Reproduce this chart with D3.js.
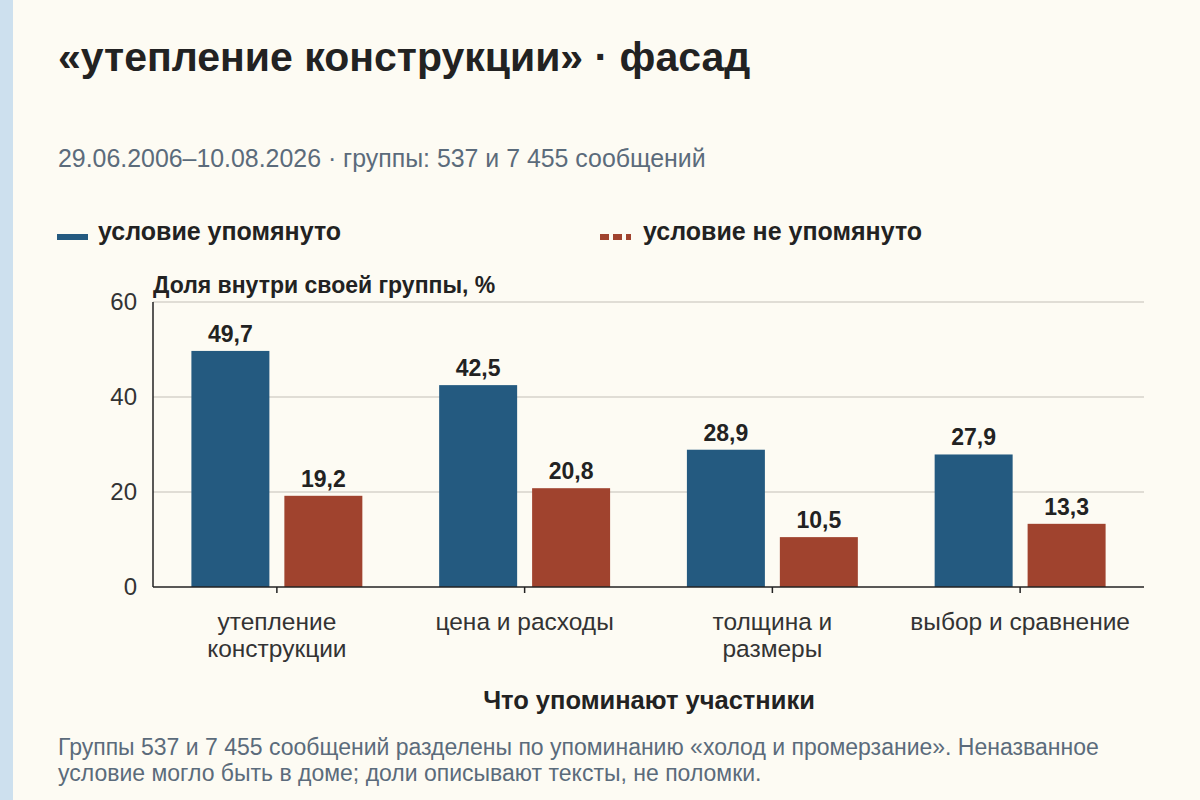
<!DOCTYPE html>
<html>
<head>
<meta charset="utf-8">
<script src="https://cdn.jsdelivr.net/npm/d3@7"></script>
<style>
  html, body { margin: 0; padding: 0; background: #fdfbf3; }
  svg { display: block; font-family: "Liberation Sans", Arial, sans-serif; }
</style>
</head>
<body>
<script>
// chart data
const categories = [["утепление", "конструкции"], ["цена и расходы"], ["толщина и", "размеры"], ["выбор и сравнение"]];
const seriesNames = ["условие упомянуто", "условие не упомянуто"];
const mentioned = [49.7, 42.5, 28.9, 27.9];
const notMentioned = [19.2, 20.8, 10.5, 13.3];
const yTicks = [0, 20, 40, 60];

const colors = ["#245a80", "#a0432e"];
const width = 1200, height = 800;
const margin = {top: 302, right: 56, bottom: 213, left: 153};

const svg = d3.select("body").append("svg")
  .attr("width", width)
  .attr("height", height);

svg.append("rect").attr("width", width).attr("height", height).attr("fill", "#fdfbf3");
svg.append("rect").attr("width", 13).attr("height", height).attr("fill", "#cde0ee");

// title, subtitle
svg.append("text").attr("x", 58).attr("y", 71)
  .attr("font-size", 41).attr("font-weight", "bold").attr("fill", "#222")
  .text("«утепление конструкции» · фасад");
svg.append("text").attr("x", 58).attr("y", 167)
  .attr("font-size", 24.9).attr("fill", "#5b6b7b")
  .text("29.06.2006–10.08.2026 · группы: 537 и 7 455 сообщений");

// legend
const legend = svg.append("g");
legend.append("line").attr("x1", 57).attr("x2", 88).attr("y1", 237).attr("y2", 237)
  .attr("stroke", colors[0]).attr("stroke-width", 6);
legend.append("text").attr("x", 98).attr("y", 240).attr("font-size", 25).attr("font-weight", "bold")
  .attr("fill", "#222").text(seriesNames[0]);
legend.append("line").attr("x1", 600).attr("x2", 631).attr("y1", 237).attr("y2", 237)
  .attr("stroke", colors[1]).attr("stroke-width", 6).attr("stroke-dasharray", "9,4");
legend.append("text").attr("x", 643).attr("y", 240).attr("font-size", 25).attr("font-weight", "bold")
  .attr("fill", "#222").text(seriesNames[1]);

// scales
const x0 = d3.scaleBand()
  .domain(d3.range(categories.length))
  .range([margin.left, width - margin.right])
  .paddingInner(0.31).paddingOuter(0.155);
const x1 = d3.scaleBand()
  .domain([0, 1])
  .range([0, x0.bandwidth()])
  .paddingInner(0.161);
const y = d3.scaleLinear()
  .domain([0, 60])
  .range([height - margin.bottom, margin.top]);

// gridlines
svg.append("g").selectAll("line")
  .data(yTicks.filter(d => d > 0))
  .join("line")
  .attr("x1", margin.left).attr("x2", width - margin.right)
  .attr("y1", d => y(d)).attr("y2", d => y(d))
  .attr("stroke", "#d6d3cb").attr("stroke-width", 1.5);

// y tick labels
svg.append("g").selectAll("text")
  .data(yTicks)
  .join("text")
  .attr("x", 137).attr("y", d => y(d) + 8)
  .attr("text-anchor", "end").attr("font-size", 24).attr("fill", "#333")
  .text(d => d);

svg.append("text").attr("x", 153).attr("y", 293)
  .attr("font-size", 23).attr("font-weight", "bold").attr("fill", "#222")
  .text("Доля внутри своей группы, %");

// bars
const rows = categories.map((c, i) => ({i, values: [mentioned[i], notMentioned[i]]}));
const groups = svg.append("g").selectAll("g")
  .data(rows)
  .join("g")
  .attr("transform", d => "translate(" + x0(d.i) + ",0)");

groups.selectAll("rect")
  .data(d => d.values.map((v, k) => ({k, v})))
  .join("rect")
  .attr("x", d => x1(d.k))
  .attr("width", x1.bandwidth())
  .attr("y", d => y(d.v))
  .attr("height", d => y(0) - y(d.v))
  .attr("fill", d => colors[d.k]);

groups.selectAll("text")
  .data(d => d.values.map((v, k) => ({k, v})))
  .join("text")
  .attr("x", d => x1(d.k) + x1.bandwidth() / 2)
  .attr("y", d => y(d.v) - 9)
  .attr("text-anchor", "middle").attr("font-size", 23).attr("font-weight", "bold").attr("fill", "#222")
  .text(d => d.v.toFixed(1).replace(".", ","));

// axes lines
svg.append("line").attr("x1", margin.left).attr("x2", margin.left)
  .attr("y1", margin.top).attr("y2", y(0))
  .attr("stroke", "#222").attr("stroke-width", 1.5);
svg.append("line").attr("x1", margin.left).attr("x2", width - margin.right)
  .attr("y1", y(0)).attr("y2", y(0))
  .attr("stroke", "#222").attr("stroke-width", 1.5);

// x ticks and labels
const xl = svg.append("g").selectAll("g")
  .data(categories)
  .join("g")
  .attr("transform", (d, i) => "translate(" + (x0(i) + x0.bandwidth() / 2) + "," + y(0) + ")");
xl.append("line").attr("y1", 0).attr("y2", 6).attr("stroke", "#222").attr("stroke-width", 1.5);
xl.selectAll("text")
  .data(d => d)
  .join("text")
  .attr("y", (d, j) => 43 + j * 27)
  .attr("text-anchor", "middle").attr("font-size", 24.5).attr("fill", "#333")
  .text(d => d);

svg.append("text").attr("x", 649).attr("y", 709)
  .attr("text-anchor", "middle").attr("font-size", 25.5).attr("font-weight", "bold").attr("fill", "#222")
  .text("Что упоминают участники");

// footnote
const note = svg.append("text").attr("font-size", 23).attr("fill", "#5b6b7b");
note.append("tspan").attr("x", 58).attr("y", 755)
  .text("Группы 537 и 7 455 сообщений разделены по упоминанию «холод и промерзание». Неназванное");
note.append("tspan").attr("x", 58).attr("y", 781)
  .text("условие могло быть в доме; доли описывают тексты, не поломки.");
</script>
</body>
</html>
